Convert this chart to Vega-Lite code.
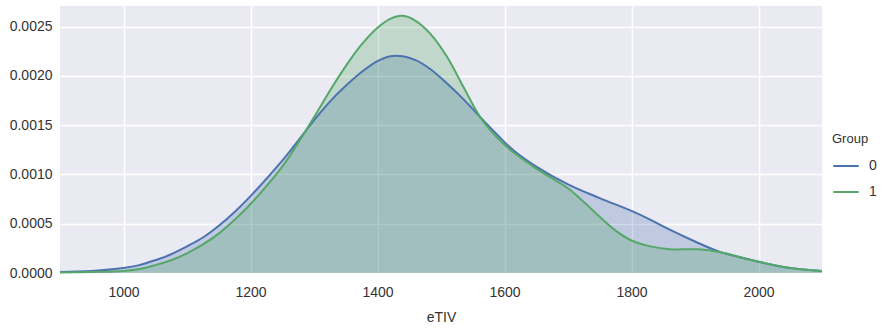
{
  "$schema": "https://vega.github.io/schema/vega-lite/v6.json",
  "autosize": {"type": "none"},
  "width": 762,
  "height": 267,
  "padding": {"left": 60, "top": 6, "right": 62, "bottom": 57},
  "background": "white",
  "config": {
    "view": {"fill": "#eaeaf2", "stroke": null},
    "font": "Liberation Sans",
    "axis": {
      "domain": false,
      "ticks": false,
      "grid": true,
      "gridColor": "white",
      "gridWidth": 1.5,
      "labelColor": "#333333",
      "labelFontSize": 14,
      "titleColor": "#333333",
      "titleFontSize": 14,
      "titleFontWeight": "normal"
    },
    "legend": {
      "orient": "none",
      "legendX": 772,
      "legendY": 127,
      "titleFontSize": 13,
      "titleFontWeight": "normal",
      "titleColor": "#333333",
      "labelFontSize": 14,
      "labelColor": "#333333",
      "labelOffset": 9,
      "symbolType": "stroke",
      "symbolSize": 650,
      "symbolStrokeWidth": 2,
      "rowPadding": 5,
      "titlePadding": 6
    }
  },
  "data": {
    "values": [
      {"eTIV": 900, "density": 0.00001, "Group": "0"},
      {"eTIV": 950, "density": 0.00002, "Group": "0"},
      {"eTIV": 1000, "density": 0.00005, "Group": "0"},
      {"eTIV": 1025, "density": 0.00008, "Group": "0"},
      {"eTIV": 1050, "density": 0.00013, "Group": "0"},
      {"eTIV": 1075, "density": 0.00019, "Group": "0"},
      {"eTIV": 1100, "density": 0.00027, "Group": "0"},
      {"eTIV": 1125, "density": 0.00036, "Group": "0"},
      {"eTIV": 1150, "density": 0.00048, "Group": "0"},
      {"eTIV": 1175, "density": 0.00062, "Group": "0"},
      {"eTIV": 1200, "density": 0.00078, "Group": "0"},
      {"eTIV": 1250, "density": 0.00114, "Group": "0"},
      {"eTIV": 1300, "density": 0.00155, "Group": "0"},
      {"eTIV": 1325, "density": 0.00174, "Group": "0"},
      {"eTIV": 1350, "density": 0.0019, "Group": "0"},
      {"eTIV": 1375, "density": 0.00204, "Group": "0"},
      {"eTIV": 1400, "density": 0.00215, "Group": "0"},
      {"eTIV": 1420, "density": 0.0022, "Group": "0"},
      {"eTIV": 1440, "density": 0.0022, "Group": "0"},
      {"eTIV": 1460, "density": 0.00216, "Group": "0"},
      {"eTIV": 1483, "density": 0.00207, "Group": "0"},
      {"eTIV": 1510, "density": 0.00192, "Group": "0"},
      {"eTIV": 1536, "density": 0.00176, "Group": "0"},
      {"eTIV": 1562, "density": 0.00158, "Group": "0"},
      {"eTIV": 1589, "density": 0.0014, "Group": "0"},
      {"eTIV": 1615, "density": 0.00124, "Group": "0"},
      {"eTIV": 1650, "density": 0.00108, "Group": "0"},
      {"eTIV": 1700, "density": 0.0009, "Group": "0"},
      {"eTIV": 1750, "density": 0.00076, "Group": "0"},
      {"eTIV": 1800, "density": 0.00063, "Group": "0"},
      {"eTIV": 1830, "density": 0.00054, "Group": "0"},
      {"eTIV": 1857, "density": 0.00045, "Group": "0"},
      {"eTIV": 1900, "density": 0.00032, "Group": "0"},
      {"eTIV": 1937, "density": 0.00022, "Group": "0"},
      {"eTIV": 1990, "density": 0.00013, "Group": "0"},
      {"eTIV": 2050, "density": 0.00005, "Group": "0"},
      {"eTIV": 2100, "density": 0.00002, "Group": "0"},
      {"eTIV": 900, "density": 0.000005, "Group": "1"},
      {"eTIV": 950, "density": 0.00001, "Group": "1"},
      {"eTIV": 1000, "density": 0.00002, "Group": "1"},
      {"eTIV": 1025, "density": 0.00004, "Group": "1"},
      {"eTIV": 1050, "density": 0.00008, "Group": "1"},
      {"eTIV": 1075, "density": 0.00013, "Group": "1"},
      {"eTIV": 1100, "density": 0.0002, "Group": "1"},
      {"eTIV": 1125, "density": 0.00029, "Group": "1"},
      {"eTIV": 1150, "density": 0.0004, "Group": "1"},
      {"eTIV": 1175, "density": 0.00054, "Group": "1"},
      {"eTIV": 1200, "density": 0.0007, "Group": "1"},
      {"eTIV": 1250, "density": 0.00108, "Group": "1"},
      {"eTIV": 1275, "density": 0.00132, "Group": "1"},
      {"eTIV": 1300, "density": 0.00158, "Group": "1"},
      {"eTIV": 1325, "density": 0.00185, "Group": "1"},
      {"eTIV": 1350, "density": 0.0021, "Group": "1"},
      {"eTIV": 1375, "density": 0.00232, "Group": "1"},
      {"eTIV": 1400, "density": 0.00249, "Group": "1"},
      {"eTIV": 1420, "density": 0.00258, "Group": "1"},
      {"eTIV": 1440, "density": 0.00261, "Group": "1"},
      {"eTIV": 1460, "density": 0.00256, "Group": "1"},
      {"eTIV": 1483, "density": 0.00243, "Group": "1"},
      {"eTIV": 1510, "density": 0.00219, "Group": "1"},
      {"eTIV": 1536, "density": 0.00188, "Group": "1"},
      {"eTIV": 1562, "density": 0.00158, "Group": "1"},
      {"eTIV": 1589, "density": 0.00137, "Group": "1"},
      {"eTIV": 1615, "density": 0.00122, "Group": "1"},
      {"eTIV": 1650, "density": 0.00106, "Group": "1"},
      {"eTIV": 1700, "density": 0.00086, "Group": "1"},
      {"eTIV": 1725, "density": 0.00072, "Group": "1"},
      {"eTIV": 1750, "density": 0.00057, "Group": "1"},
      {"eTIV": 1775, "density": 0.00043, "Group": "1"},
      {"eTIV": 1800, "density": 0.00033, "Group": "1"},
      {"eTIV": 1830, "density": 0.00027, "Group": "1"},
      {"eTIV": 1860, "density": 0.00024, "Group": "1"},
      {"eTIV": 1905, "density": 0.00024, "Group": "1"},
      {"eTIV": 1940, "density": 0.00021, "Group": "1"},
      {"eTIV": 1990, "density": 0.00013, "Group": "1"},
      {"eTIV": 2050, "density": 0.00005, "Group": "1"},
      {"eTIV": 2100, "density": 0.00002, "Group": "1"}
    ]
  },
  "encoding": {
    "x": {
      "field": "eTIV",
      "type": "quantitative",
      "scale": {"domain": [900, 2100], "nice": false, "zero": false},
      "axis": {"values": [1000, 1200, 1400, 1600, 1800, 2000], "format": "d", "title": "eTIV", "labelPadding": 12, "titlePadding": 11}
    },
    "y": {
      "field": "density",
      "type": "quantitative",
      "stack": null,
      "scale": {"domain": [0, 0.00271], "nice": false},
      "axis": {"values": [0, 0.0005, 0.001, 0.0015, 0.002, 0.0025], "format": ".4f", "title": null, "labelPadding": 8}
    },
    "color": {
      "field": "Group",
      "type": "nominal",
      "title": "Group",
      "scale": {"domain": ["0", "1"], "range": ["#4c72b0", "#55a868"]}
    }
  },
  "layer": [
    {
      "mark": {"type": "area", "interpolate": "catmull-rom", "fillOpacity": 0.27}
    },
    {
      "mark": {"type": "line", "interpolate": "catmull-rom", "strokeWidth": 2}
    }
  ]
}
